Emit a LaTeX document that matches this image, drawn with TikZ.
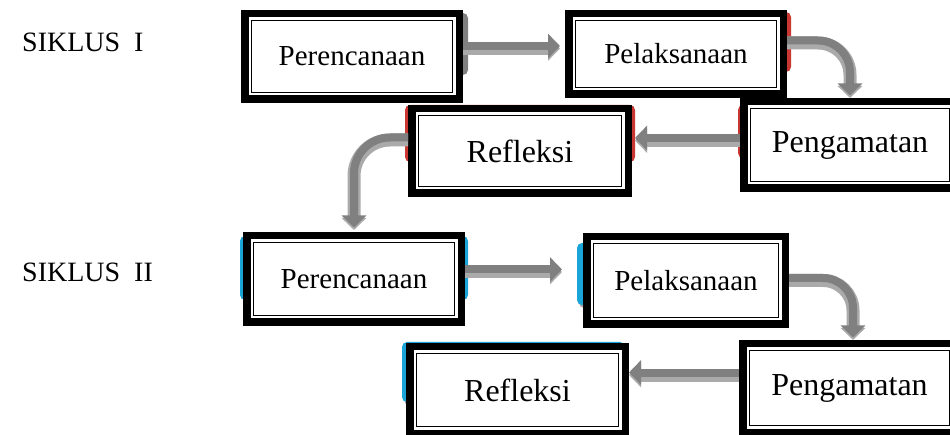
\documentclass[tikz,border=0pt]{standalone}
\usepackage{fontspec}
\setmainfont{Liberation Serif}
\usetikzlibrary{arrows.meta}

\definecolor{abugelap}{RGB}{128,128,128}
\definecolor{abuterang}{RGB}{170,170,170}
\definecolor{merah}{RGB}{200,55,50}
\definecolor{biru}{RGB}{25,165,215}

\begin{document}
\begin{tikzpicture}[x=1pt, y=-1pt]
        % Gaya untuk kotak, panah dan latar
        \tikzstyle{kotak} = [draw, line width=7.5pt, fill=white, inner sep=0pt, minimum width=214.5pt, minimum height=85.5pt, path picture={\draw[line width=1.5pt] ([shift={(6.75pt,-6.75pt)}]path picture bounding box.north west) rectangle ([shift={(-6.75pt,6.75pt)}]path picture bounding box.south east);}]
        \tikzstyle{kecil} = [font=\fontsize{29pt}{34pt}\selectfont]
        \tikzstyle{besar} = [font=\fontsize{32pt}{38pt}\selectfont]
        \tikzstyle{judul} = [font=\fontsize{28pt}{34pt}\selectfont, inner sep=0pt, anchor=base west]
        \tikzstyle{panah} = [line width=13pt, draw=abuterang, -{Triangle[length=12pt, width=24pt]}, postaction={draw=abugelap, line width=8pt, transform canvas={yshift=2.5pt}}]
        \tikzstyle{latar} = [rounded corners=5pt]

        \useasboundingbox (0,0) rectangle (950,435);
        \clip (0,0) rectangle (950,435);

        % Latar berwarna di belakang kotak
        \fill [abugelap, latar] (245,13) rectangle (468,75);
        \fill [merah, latar] (565,12) rectangle (791,72);
        \fill [merah, latar] (405,105) rectangle (635,162);
        \fill [merah, latar] (738,105) rectangle (900,158);
        \fill [biru, latar] (240,236) rectangle (468,300);
        \fill [abuterang, latar] (579,246) rectangle (700,308);
        \fill [biru, latar] (577,243) rectangle (700,305);
        \fill [abuterang, latar] (404,345) rectangle (627,405);
        \fill [biru, latar] (402,342) rectangle (625,402);

        % Nodes
        \node [judul] (siklus1) at (22,52) {SIKLUS\ \ I};
        \node [judul] (siklus2) at (22,282) {SIKLUS\ \ II};

        \node [kotak, kecil] (ren1) at (352,56.5) {Perencanaan};
        \node [kotak, kecil, minimum height=80.5pt] (pel1) at (676,54) {Pelaksanaan};
        \node [kotak, besar, minimum width=212.5pt, minimum height=86.5pt] (pen1) at (850,145) {Pengamatan};
        \node [kotak, besar, minimum width=216.5pt, minimum height=84.5pt] (ref1) at (520,151) {Refleksi};

        \node [kotak, kecil, minimum height=86.5pt] (ren2) at (354,279) {Perencanaan};
        \node [kotak, kecil, minimum width=198.5pt, minimum height=87.5pt] (pel2) at (686,280.5) {Pelaksanaan};
        \node [kotak, besar, minimum width=213.5pt, minimum height=88.5pt] (pen2) at (849.5,388) {Pengamatan};
        \node [kotak, besar, minimum width=215.5pt, minimum height=86.5pt] (ref2) at (517.5,390) {Refleksi};

        \coordinate (a1) at ([yshift=8pt]ren1.east);
        \coordinate (a2) at ([yshift=11pt]pel1.east);
        \coordinate (a3) at ([yshift=4.5pt]pen1.west);
        \coordinate (a4) at ([yshift=11pt]ref1.west);
        \coordinate (a5) at ([yshift=7pt]ren2.east);
        \coordinate (a7) at ([yshift=13pt]pen2.west);

        % Lines
        \draw [panah, shorten >=5pt] (a1) -- (a1 -| pel1.west);
        \draw [panah, rounded corners=32pt] (a2) -| (850,0 |- pen1.north);
        \draw [panah, shorten >=3pt] (a3) -- (a3 -| ref1.east);
        \draw [panah, rounded corners=36pt, shorten >=2pt] (a4) -| (ren2.north);
        \draw [panah, shorten >=21pt] (a5) -- (a5 -| pel2.west);
        \draw [panah, rounded corners=30pt] (pel2.east) -| (853,0 |- pen2.north);
        \draw [panah] (a7) -- (a7 -| ref2.east);

\end{tikzpicture}
\end{document}
